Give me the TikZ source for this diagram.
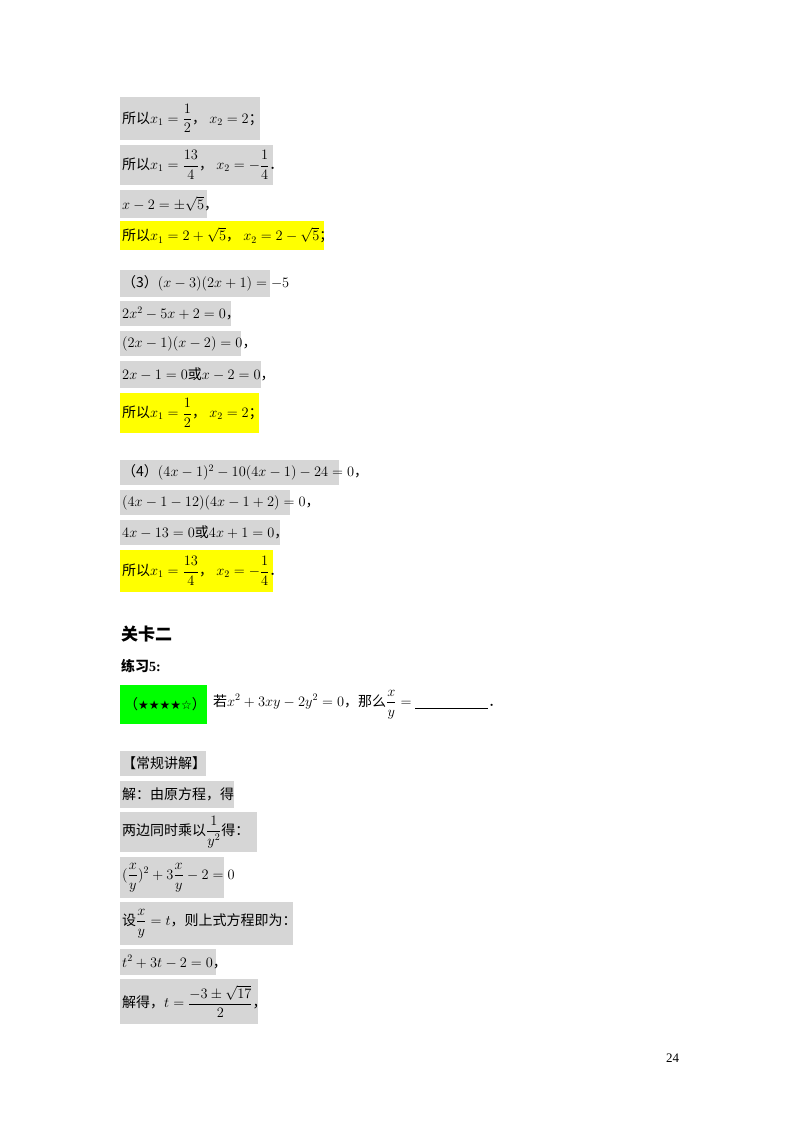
\documentclass[tikz,border=0pt]{standalone}
\usepackage{amsmath}
\usepackage{fontspec}
\setmainfont{Noto Sans CJK SC}
\newfontfamily\serif{Liberation Serif}
\newfontfamily\sym{DejaVu Sans}
\definecolor{gb}{RGB}{214,214,214}
\definecolor{yb}{RGB}{255,255,0}
\definecolor{grn}{RGB}{0,255,0}
\tikzset{t/.style={anchor=west,inner sep=0pt,font=\fontsize{14}{16}\selectfont}}
\newcommand\blk[7]{\fill[#1] (#2,#3) rectangle (#4,#5);
  \node[t] (#6) at (122,{(#3+#5)/2}) {#7};}
\begin{document}
\begin{tikzpicture}[x=1pt,y=-1pt]
\useasboundingbox (0,0) rectangle (800,1132);
\fill[white] (0,0) rectangle (800,1132);
\blk{gb}{120}{97}{260}{140}{a1}{所以$x_1=\dfrac{1}{2}$，\ $x_2=2$；}
\blk{gb}{120}{145}{273}{185}{a2}{所以$x_1=\dfrac{13}{4}$，\ $x_2=-\dfrac{1}{4}$．}
\blk{gb}{120}{190}{207}{218}{a3}{$x-2=\pm\sqrt{5}$，}
\blk{yb}{120}{221}{324}{250}{a4}{所以$x_1=2+\sqrt{5}$，\ $x_2=2-\sqrt{5}$；}
\blk{gb}{120}{270}{270}{297}{b1}{（3）$(x-3)(2x+1)=-5$}
\blk{gb}{120}{301}{231}{326}{b2}{$2x^2-5x+2=0$，}
\blk{gb}{120}{331}{241}{356}{b3}{$(2x-1)(x-2)=0$，}
\blk{gb}{120}{361}{261}{388}{b4}{$2x-1=0$或$x-2=0$，}
\blk{yb}{120}{393}{259}{433}{b5}{所以$x_1=\dfrac{1}{2}$，\ $x_2=2$；}
\blk{gb}{120}{460}{339}{485}{c1}{（4）$(4x-1)^2-10(4x-1)-24=0$，}
\blk{gb}{120}{490}{290}{515}{c2}{$(4x-1-12)(4x-1+2)=0$，}
\blk{gb}{120}{520}{280}{545}{c3}{$4x-13=0$或$4x+1=0$，}
\blk{yb}{120}{550}{273}{592}{c4}{所以$x_1=\dfrac{13}{4}$，\ $x_2=-\dfrac{1}{4}$．}
\node[t,font=\fontsize{17}{19}\selectfont\bfseries] (h1) at (121,634) {关卡二};
\node[t,font=\fontsize{14}{16}\selectfont\bfseries] (h2) at (121,666) {练习{\serif\bfseries 5:}};
\fill[grn] (120,685) rectangle (207,724);
\node[t] (g) at (124,704.5) {（{\sym\fontsize{12}{14}\selectfont ★★★★☆}）};
\node[t] (q) at (213,704.5) {若$x^2+3xy-2y^2=0$，那么$\dfrac{x}{y}=\underline{\hspace{5.2em}}$．};
\blk{gb}{120}{751}{206}{776}{d1}{【常规讲解】}
\blk{gb}{120}{781}{234}{808}{d2}{解：由原方程，得}
\blk{gb}{120}{812}{257}{852}{d3}{两边同时乘以$\dfrac{1}{y^2}$得：}
\blk{gb}{120}{857}{224}{898}{d4}{$(\dfrac{x}{y})^2+3\dfrac{x}{y}-2=0$}
\blk{gb}{120}{902}{293}{945}{d5}{设$\dfrac{x}{y}=t$，则上式方程即为：}
\blk{gb}{120}{949}{216}{975}{d6}{$t^2+3t-2=0$，}
\blk{gb}{120}{979}{258}{1024}{d7}{解得，$t=\dfrac{-3\pm\sqrt{17}}{2}$，}
\node[t,font=\fontsize{13}{15}\serif] (pn) at (666,1058) {24};
\end{tikzpicture}
\end{document}
